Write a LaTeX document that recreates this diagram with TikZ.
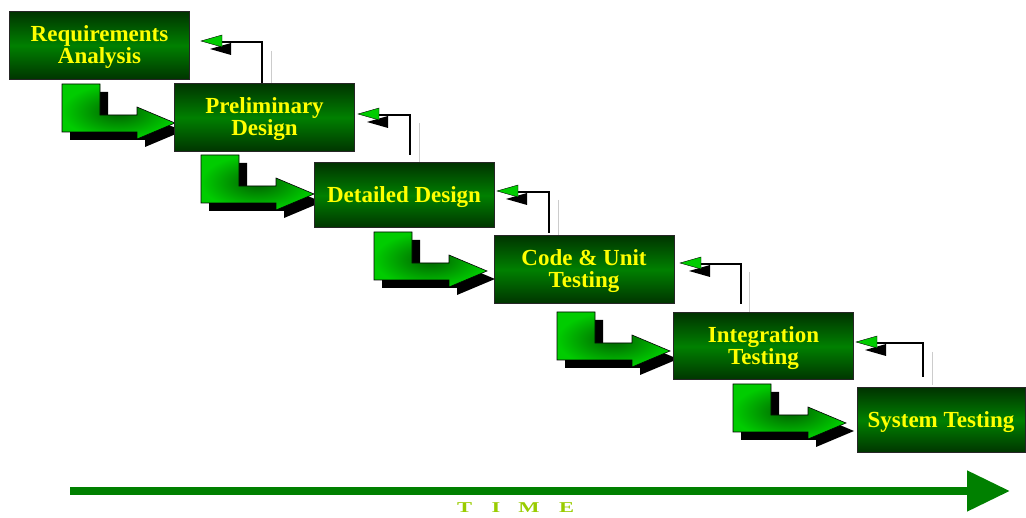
\documentclass[tikz,border=0pt]{standalone}
\usepackage{fontspec}
\setmainfont{Liberation Serif}
\usetikzlibrary{arrows.meta}
\definecolor{boxdark}{RGB}{0,52,0}
\definecolor{boxmid}{RGB}{0,128,0}
\definecolor{stepgreen}{RGB}{0,204,0}
\definecolor{benddark}{RGB}{0,95,0}
\definecolor{timegreen}{RGB}{0,128,0}
\definecolor{timetext}{RGB}{153,204,0}
\definecolor{labelyellow}{RGB}{255,255,0}
\tikzset{
  phase/.style={draw=black!85, line width=1pt, top color=boxdark, bottom color=boxdark,
    middle color=boxmid, text=labelyellow, font=\fontsize{23}{22}\selectfont\bfseries,
    align=center, inner sep=0pt, text depth=1pt, minimum width=180pt, minimum height=68pt},
  stepflow/.pic={
    \fill[black] (8,8) -- (46,8) -- (46,39) -- (83,39) -- (83,31) -- (121,47) -- (83,63) -- (83,56) -- (8,56) -- cycle;
    \draw[black, line width=0.6pt, inner color=benddark, outer color=stepgreen]
      (0,0) -- (38,0) -- (38,31) -- (75,31) -- (75,23) -- (113,39) -- (75,55) -- (75,48) -- (0,48) -- cycle;
  }
}
\begin{document}
\begin{tikzpicture}[x=1pt,y=-1pt]
  \useasboundingbox (0,0) rectangle (1026,518);
  % stepping arrows between phases
  \foreach \ax/\ay in {62/84,201/155,374/232,557/312,733/384}
    \pic at (\ax,\ay) {stepflow};
  % feedback arrows
  \foreach \tx/\ty/\vx/\vb/\gx/\gt/\gb in {201/41/262/83/271/51/83, 358/114/410/155/419/123/163,
      497/191/549/233/558/200/235, 680/263/741/304/749/272/313, 856/342/923/377/932/352/385}{
    \draw[black!20, line width=0.8pt] (\gx,\gt) -- (\gx,\gb);
    \draw[line width=1.5pt] (\vx,\vb) |- (\tx+20,\ty+1);
    \fill[black] (\tx+9,\ty+8) -- (\tx+30,\ty+2) -- (\tx+30,\ty+14) -- cycle;
    \filldraw[fill=stepgreen, draw=black, line width=0.4pt] (\tx,\ty) -- (\tx+21,\ty-6) -- (\tx+21,\ty+6) -- cycle;
  }
  \node[phase] (req) at (99.5,45.5) {Requirements\\Analysis};
  \node[phase] (prelim) at (264.5,117.5) {Preliminary\\Design};
  \node[phase, minimum height=65pt] (detail) at (404,195.5) {Detailed Design};
  \node[phase] (code) at (584,269.5) {Code \& Unit\\Testing};
  \node[phase, minimum height=67pt] (integ) at (763.5,346.5) {Integration\\Testing};
  \node[phase, minimum width=168pt, minimum height=65pt] (systest) at (941,420.5) {System Testing};
  % time axis
  \coordinate (tstart) at (70,491);
  \coordinate (tend) at (1010,491);
  \draw[timegreen, line width=8pt, -{Triangle[length=43pt, width=39pt]}] (tstart) -- (tend);
  \node[anchor=base west, inner sep=0pt, text=timetext, font=\fontsize{15}{15}\selectfont\bfseries] (time) at (457,512)
    {\scalebox{1.5}[1]{T\hspace{13pt}I\hspace{12pt}M\hspace{13pt}E}};
\end{tikzpicture}
\end{document}
